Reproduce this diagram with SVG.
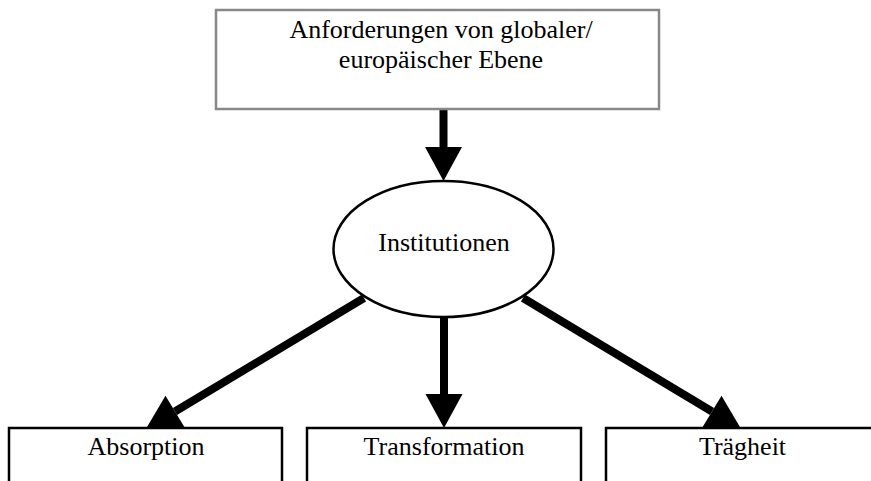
<svg xmlns="http://www.w3.org/2000/svg" width="871" height="481" viewBox="0 0 871 481">
<style>
  .lbl { font-family: "Liberation Serif", "Times New Roman", serif; font-size: 26px; fill: #000; text-anchor: middle; }
  .box { fill: #fff; stroke: #000; stroke-width: 2.5; }
  .top { fill: #fff; stroke: #888; stroke-width: 2.5; }
  .conn { stroke: #000; stroke-width: 8; fill: none; marker-end: url(#head); }
</style>
<defs>
  <marker id="head" markerUnits="userSpaceOnUse" markerWidth="35" markerHeight="38" refX="0" refY="18.5" orient="auto" overflow="visible">
    <path d="M0,0 L34,18.5 L0,37 Z" fill="#000"/>
  </marker>
</defs>
<rect width="871" height="481" fill="#fff"/>
<g id="connectors">
  <line class="conn" x1="443.5" y1="109" x2="443.5" y2="147"/>
  <line class="conn" x1="444" y1="317" x2="444" y2="394"/>
  <line class="conn" x1="364" y1="298" x2="175" y2="411.5"/>
  <line class="conn" x1="523" y1="298" x2="712" y2="411.5"/>
</g>
<g id="anforderungen">
  <rect class="top" x="216" y="10" width="443" height="99"/>
  <text class="lbl" x="441" y="38">Anforderungen von globaler/</text>
  <text class="lbl" x="441" y="68">europäischer Ebene</text>
</g>
<g id="institutionen">
  <ellipse cx="443.5" cy="249" rx="110" ry="68" fill="#fff" stroke="#000" stroke-width="2.5"/>
  <text class="lbl" x="444" y="251">Institutionen</text>
</g>
<g id="absorption">
  <rect class="box" x="9" y="428" width="273" height="70"/>
  <text class="lbl" x="146" y="455">Absorption</text>
</g>
<g id="transformation">
  <rect class="box" x="307" y="428" width="274" height="70"/>
  <text class="lbl" x="444" y="455">Transformation</text>
</g>
<g id="traegheit">
  <rect class="box" x="606" y="428" width="273" height="70"/>
  <text class="lbl" x="742.5" y="455">Trägheit</text>
</g>
</svg>
